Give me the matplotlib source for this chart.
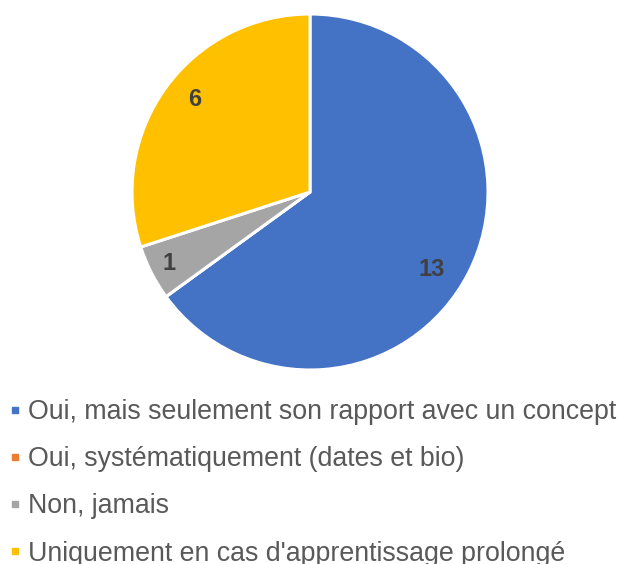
import numpy as np
import matplotlib
matplotlib.use("Agg")
import matplotlib.pyplot as plt
from matplotlib.lines import Line2D

labels = ["Oui, mais seulement son rapport avec un concept",
          "Oui, systématiquement (dates et bio)",
          "Non, jamais",
          "Uniquement en cas d'apprentissage prolongé"]
values = [13, 0, 1, 6]
colors = ["#4472C4", "#ED7D31", "#A5A5A5", "#FFC000"]

plt.rcParams['font.family'] = ['Liberation Sans', 'DejaVu Sans']

fig = plt.figure(figsize=(6.21, 5.64), dpi=100)
# pie area: center (310,192) px, radius ~178 px
ax = fig.add_axes([(310 - 178) / 621, 1 - (192 + 178) / 564, 356 / 621, 356 / 564])

total = sum(values)
wedges, texts, autotexts = ax.pie(
    values, colors=colors, startangle=90, counterclock=False,
    autopct=lambda p: '' if p < 0.5 else '%d' % round(p * total / 100),
    pctdistance=0.83,
    wedgeprops=dict(edgecolor='white', linewidth=2.2),
    textprops=dict(color='#404040', fontsize=17, fontweight='bold'))
ax.set_xlim(-1, 1)
ax.set_ylim(-1, 1)
ax.set_aspect('equal')

# nudge data labels like Excel's best-fit placement
for t, w, dist, shift in zip(autotexts, wedges, [0.81, 0.83, 0.89, 0.83], [-5.6, 0, 0, -3]):
    mid = np.deg2rad((w.theta1 + w.theta2) / 2 + shift)
    t.set_position((dist * np.cos(mid), dist * np.sin(mid)))

handles = [Line2D([], [], marker='s', linestyle='', markersize=5,
                  markerfacecolor=c, markeredgecolor=c) for c in colors]
fig.legend(handles, labels, loc='upper left', bbox_to_anchor=(10 / 621, 1 - 399 / 564),
           frameon=False, fontsize=19.3, labelcolor='#595959',
           handletextpad=0.28, handlelength=0.4, labelspacing=0.79,
           borderaxespad=0.0, borderpad=0.0)

fig.savefig('out.png', dpi=100)
